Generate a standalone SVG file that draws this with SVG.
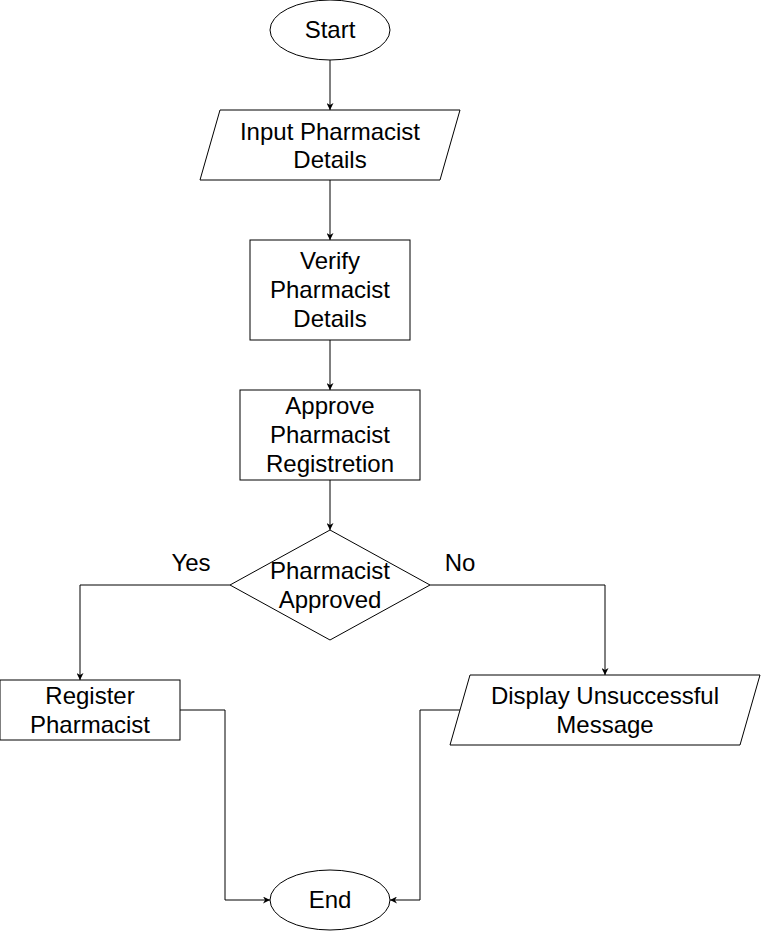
<svg xmlns="http://www.w3.org/2000/svg" width="761" height="931" viewBox="0 0 761 931">
<defs>
<marker id="arr" viewBox="0 0 10 10" refX="10" refY="5" markerWidth="7" markerHeight="7" markerUnits="userSpaceOnUse" orient="auto">
<path d="M0,0 L10,5 L0,10 L3,5 Z" fill="#000"/>
</marker>
<style>
.s{fill:#fff;stroke:#000;stroke-width:1}
.t{font-family:"Liberation Sans",Arial,sans-serif;font-size:24px;fill:#000;text-anchor:middle}
.c{fill:none;stroke:#000;stroke-width:1;marker-end:url(#arr)}
</style>
</defs>
<rect width="761" height="931" fill="#fff"/>
<g id="connectors">
<path class="c" d="M330,60 V110"/>
<path class="c" d="M330,180 V240"/>
<path class="c" d="M330,340 V390"/>
<path class="c" d="M330,480 V530"/>
<path class="c" d="M230,585 H80 V680"/>
<path class="c" d="M430,585 H605 V675"/>
<path class="c" d="M180,710 H225 V900 H270"/>
<path class="c" d="M460,710 H420 V900 H390"/>
</g>
<g id="start"><ellipse class="s" cx="330" cy="30" rx="60" ry="30"/><text class="t" x="330" y="37.5">Start</text></g>
<g id="input"><polygon class="s" points="220,110 460,110 440,180 200,180"/><text class="t" x="330" y="139.5">Input Pharmacist</text><text class="t" x="330" y="168">Details</text></g>
<g id="verify"><rect class="s" x="250" y="240" width="160" height="100"/><text class="t" x="330" y="269">Verify</text><text class="t" x="330" y="298">Pharmacist</text><text class="t" x="330" y="327">Details</text></g>
<g id="approve"><rect class="s" x="240" y="390" width="180" height="90"/><text class="t" x="330" y="414">Approve</text><text class="t" x="330" y="443">Pharmacist</text><text class="t" x="330" y="472">Registretion</text></g>
<g id="decision"><polygon class="s" points="330,530 430,585 330,640 230,585"/><text class="t" x="330" y="578.5">Pharmacist</text><text class="t" x="330" y="607.5">Approved</text></g>
<g id="register"><rect class="s" x="0" y="680" width="180" height="60"/><text class="t" x="90" y="703.5">Register</text><text class="t" x="90" y="732.5">Pharmacist</text></g>
<g id="display"><polygon class="s" points="470,675 760,675 740,745 450,745"/><text class="t" x="605" y="703.5">Display Unsuccessful</text><text class="t" x="605" y="732.5">Message</text></g>
<g id="end"><ellipse class="s" cx="330" cy="900" rx="60" ry="30"/><text class="t" x="330" y="907.5">End</text></g>
<g id="labels"><text class="t" x="191" y="571">Yes</text><text class="t" x="460" y="571">No</text></g>
</svg>
